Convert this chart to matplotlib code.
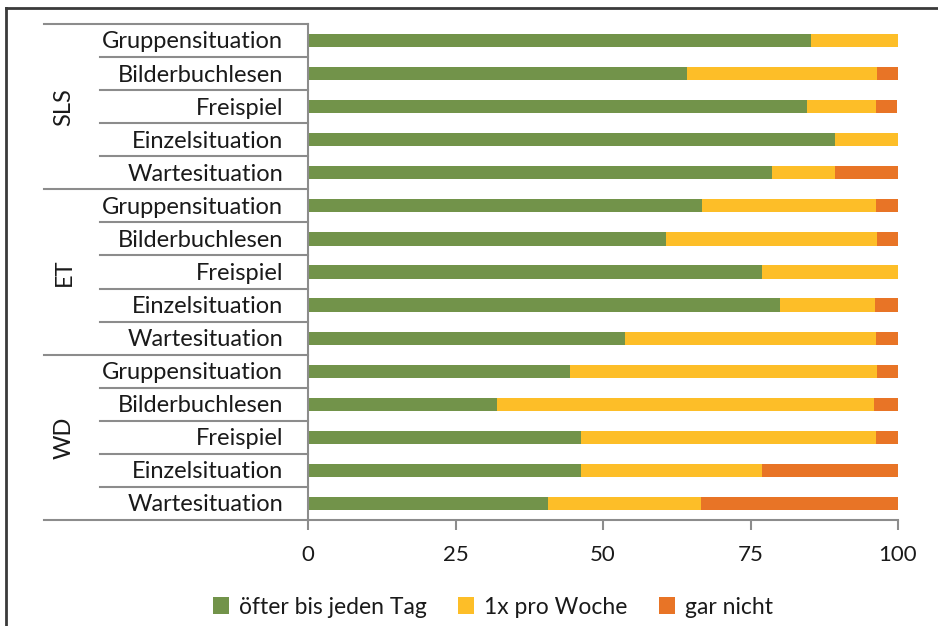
import matplotlib
matplotlib.use("Agg")
from matplotlib import pyplot as plt
from matplotlib.lines import Line2D
import numpy as np

plt.rcParams['font.family'] = ['Lato', 'DejaVu Sans']

groups = ['SLS', 'ET', 'WD']
situations = ['Gruppensituation', 'Bilderbuchlesen', 'Freispiel',
              'Einzelsituation', 'Wartesituation']
series_names = ['öfter bis jeden Tag', '1x pro Woche', 'gar nicht']

# values per row, top to bottom (SLS, ET, WD)
daily = [85.3, 64.3, 84.6, 89.3, 78.6,
         66.7, 60.7, 76.9, 80.0, 53.8,
         44.4, 32.0, 46.2, 46.2, 40.7]
weekly = [14.7, 32.1, 11.6, 10.7, 10.8,
          29.6, 35.7, 23.1, 16.1, 42.4,
          52.0, 64.0, 50.0, 30.8, 25.9]
never = [0.0, 3.6, 3.7, 0.0, 10.6,
         3.7, 3.6, 0.0, 3.9, 3.8,
         3.6, 4.0, 3.8, 23.0, 33.4]

colors = ['#72934a', '#fdbe28', '#e87426']
grid_col = '#8c8c8c'
txt_col = '#1a1a1a'

W, H = 938, 626
fig = plt.figure(figsize=(W / 100, H / 100), dpi=100)
ax = fig.add_axes([308 / W, 1 - 520 / H, 590 / W, 496 / H])

n = len(daily)
y = np.arange(n)
left = np.zeros(n)
for vals, col, name in zip([daily, weekly, never], colors, series_names):
    ax.barh(y, vals, left=left, height=0.4, color=col, label=name)
    left = left + np.array(vals)

ax.set_xlim(0, 100)
ax.set_ylim(n - 0.5, -0.5)
ax.set_xticks([0, 25, 50, 75, 100])
ax.tick_params(axis='x', length=7, width=1.5, color=grid_col,
               labelsize=16, pad=11, labelcolor=txt_col)
ax.set_yticks([])
for s in ['top', 'right']:
    ax.spines[s].set_visible(False)
for s in ['left', 'bottom']:
    ax.spines[s].set_color(grid_col)
    ax.spines[s].set_linewidth(1.5)

# category labels and separator lines
tr = ax.get_yaxis_transform()
x_row = (100 - 308) / 590
x_grp = (44 - 308) / 590
for i in range(n):
    ax.text(-0.042, i + 0.24, situations[i % 5], transform=tr, ha='right',
            va='baseline', fontsize=17, color=txt_col)
for b in range(n + 1):
    x0 = x_grp if b % 5 == 0 else x_row
    ax.add_line(Line2D([x0, 0], [b - 0.5, b - 0.5], transform=tr,
                       color=grid_col, lw=1.5, clip_on=False))
for g, name in enumerate(groups):
    ax.text((64 - 308) / 590, g * 5 + 2, name, transform=tr, rotation=90,
            ha='center', va='center', fontsize=17, color=txt_col)

fig.legend(loc='center', bbox_to_anchor=(493 / W, 1 - 607 / H), ncol=3,
           frameon=False, fontsize=16.5, handlelength=0.7, handleheight=0.7,
           handletextpad=0.45, columnspacing=1.35, labelcolor=txt_col)

# outer frame (partly cut off)
fig.add_artist(Line2D([6 / W, 6 / W], [0, 1 - 8 / H], transform=fig.transFigure,
                      color='#3a3a3a', lw=2))
fig.add_artist(Line2D([6 / W, 1], [1 - 8 / H, 1 - 8 / H], transform=fig.transFigure,
                      color='#3a3a3a', lw=2))

fig.savefig('out.png', dpi=100)
